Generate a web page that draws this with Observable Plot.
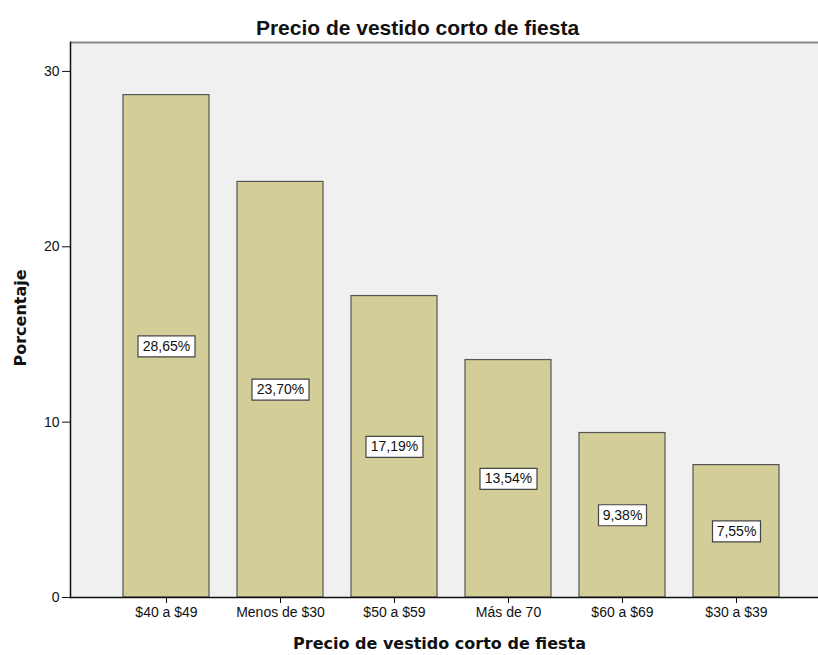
<!DOCTYPE html>
<html>
<head>
<meta charset="utf-8">
<script src="https://cdn.jsdelivr.net/npm/d3@7"></script>
<script src="https://cdn.jsdelivr.net/npm/@observablehq/plot@0.6"></script>
<style>
  html, body { margin: 0; padding: 0; background: #ffffff; }
  #chart svg { display: block; }
</style>
</head>
<body>
<div id="chart"></div>
<script>
const chartTitle = "Precio de vestido corto de fiesta";
const xTitle = "Precio de vestido corto de fiesta";
const yTitle = "Porcentaje";
const categories = ["$40 a $49", "Menos de $30", "$50 a $59", "Más de 70", "$60 a $69", "$30 a $39"];
const percentages = [28.65, 23.70, 17.19, 13.54, 9.38, 7.55];
const yTicks = [0, 10, 20, 30];
const yMax = 31.65;

const data = categories.map((c, i) => ({cat: c, value: percentages[i]}));
const fmt = v => d3.format(".2f")(v).replace(".", ",") + "%";

function boxSymbol(w, h) {
  return {draw(ctx) { ctx.rect(-w / 2, -h / 2, w, h); }};
}

const wide = data.filter(d => fmt(d.value).length >= 6);
const narrow = data.filter(d => fmt(d.value).length < 6);

const chart = Plot.plot({
  width: 818,
  height: 655,
  marginTop: 42,
  marginBottom: 58,
  marginLeft: 70,
  marginRight: 0,
  style: {fontFamily: "'Liberation Sans', Arial, sans-serif", fontSize: "14px", color: "#111", background: "#ffffff"},
  x: {domain: categories, range: [107.8, 794.2], paddingInner: 0.25, paddingOuter: 0.125, label: null},
  y: {domain: [0, yMax], label: null},
  marks: [
    Plot.frame({fill: "#f0f0f0", stroke: null}),
    Plot.barY(data, {x: "cat", y: "value", fill: "#d3ce98", stroke: "#555555", strokeWidth: 1.2}),
    Plot.dot(wide, {x: "cat", y: d => d.value / 2, symbol: boxSymbol(57, 21), r: 10, fill: "white", stroke: "#444444", strokeWidth: 1.2}),
    Plot.dot(narrow, {x: "cat", y: d => d.value / 2, symbol: boxSymbol(48, 21), r: 10, fill: "white", stroke: "#444444", strokeWidth: 1.2}),
    Plot.text(data, {x: "cat", y: d => d.value / 2, text: d => fmt(d.value), fontSize: 14, fill: "#111"}),
    Plot.ruleY([yMax], {stroke: "#888888", strokeWidth: 2}),
    Plot.ruleY([0], {stroke: "#111", strokeWidth: 1.5}),
    Plot.frame({anchor: "left", stroke: "#111", strokeWidth: 1.5}),
    Plot.axisY({ticks: yTicks, tickSize: 8, tickPadding: 3, tickFormat: d => String(d), label: null, stroke: "#111"}),
    Plot.axisX({tickSize: 6, tickPadding: 4, label: null, stroke: "#111"}),
    Plot.text([chartTitle], {frameAnchor: "top", lineAnchor: "middle", dy: -14, dx: -27, fontSize: 21, fontWeight: "bold", fill: "#111"}),
    Plot.text([xTitle], {frameAnchor: "bottom", lineAnchor: "middle", dy: 46, dx: -5, fontSize: 16, fontWeight: "bold", fontFamily: "'DejaVu Sans', sans-serif", fill: "#111"}),
    Plot.text([yTitle], {frameAnchor: "left", textAnchor: "middle", lineAnchor: "middle", dx: -50, dy: -2, rotate: -90, fontSize: 16, fontWeight: "bold", fontFamily: "'DejaVu Sans', sans-serif", fill: "#111"})
  ]
});
document.getElementById("chart").appendChild(chart);
</script>
</body>
</html>
